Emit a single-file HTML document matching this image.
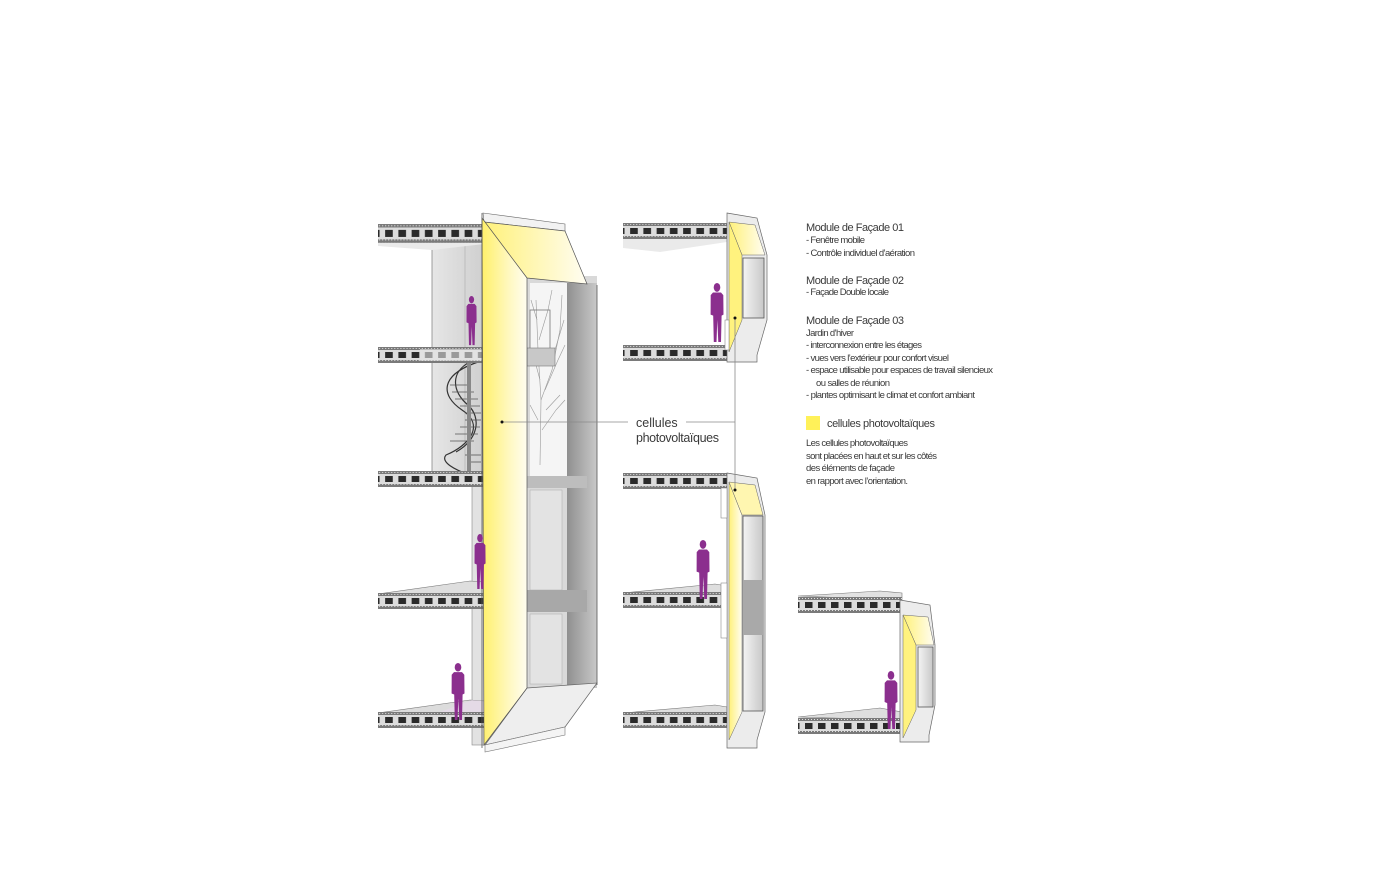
<!DOCTYPE html>
<html><head><meta charset="utf-8"><style>
html,body{margin:0;padding:0;background:#fff;}
svg{display:block;}
text{font-family:"Liberation Sans",sans-serif;fill:#3a3a3a;}
.n{font-family:"Liberation Sans Narrow","Liberation Sans",sans-serif;font-size:9.5px;}
.h{font-size:11px;}
</style></head><body>
<svg width="1400" height="875" viewBox="0 0 1400 875" xmlns="http://www.w3.org/2000/svg">
<defs>
<pattern id="holes" patternUnits="userSpaceOnUse" width="13" height="20" x="4">
<rect x="3" y="0" width="7.5" height="20" rx="3" fill="#2a2a2a"/>
</pattern>
<pattern id="dots" patternUnits="userSpaceOnUse" width="3" height="3">
<rect width="3" height="3" fill="#7a7a7a"/><rect x="1" y="1" width="1" height="1" fill="#e0e0e0"/>
</pattern>
<symbol id="slab" viewBox="0 0 104 17" preserveAspectRatio="none">
<rect x="0" y="0" width="104" height="3" fill="url(#dots)"/>
<rect x="0" y="3" width="104" height="10" fill="#dcdcdc"/>
<rect x="0" y="5" width="104" height="6" fill="url(#holes)"/>
<rect x="0" y="13" width="104" height="3" fill="url(#dots)"/>
</symbol>
<symbol id="man" viewBox="0 0 14 57" preserveAspectRatio="none">
<ellipse cx="7" cy="4.2" rx="3.3" ry="4.2" fill="#8b2f8e"/>
<path d="M3,9 L11,9 L13.3,11.5 L13.5,30 L11.6,31 L11,56 L8.3,56 L7.3,35 L6.5,56 L3.8,56 L3.2,31 L0.6,30 L0.7,11.5 Z" fill="#8b2f8e"/>
</symbol>
<linearGradient id="yel" x1="0" x2="1" y1="0" y2="0">
<stop offset="0" stop-color="#fff06a"/><stop offset="0.6" stop-color="#fff8c0"/><stop offset="1" stop-color="#fffdf0"/>
</linearGradient>
<linearGradient id="yel2" x1="0" x2="1" y1="0" y2="0">
<stop offset="0" stop-color="#fff17a"/><stop offset="1" stop-color="#fffdf2"/>
</linearGradient>
<linearGradient id="grey" x1="0" x2="1">
<stop offset="0" stop-color="#e6e6e6"/><stop offset="1" stop-color="#cfcfcf"/>
</linearGradient>
<linearGradient id="dk" x1="0" x2="1">
<stop offset="0" stop-color="#8f8f8f"/><stop offset="1" stop-color="#c9c9c9"/>
</linearGradient>
<linearGradient id="win" x1="0" x2="1">
<stop offset="0" stop-color="#f4f4f4"/><stop offset="1" stop-color="#c8c8c8"/>
</linearGradient>
</defs>

<!-- ========== MAIN TOWER ========== -->
<rect x="432" y="240" width="52" height="240" fill="url(#grey)"/>
<line x1="432" y1="240" x2="432" y2="478" stroke="#888" stroke-width="0.8"/>
<line x1="465" y1="245" x2="465" y2="478" stroke="#aaa" stroke-width="0.6"/>
<rect x="472" y="480" width="12" height="265" fill="#e2e2e2" stroke="#888" stroke-width="0.6"/>
<g fill="none" stroke="#333" stroke-width="1.2">
<path d="M478,362 C440,375 440,395 462,410 C485,425 470,445 446,455 C440,462 455,470 470,475"/>
<path d="M470,362 C450,372 452,392 468,405 C482,418 478,440 456,452"/>
</g>
<g stroke="#555" stroke-width="0.8">
<line x1="450" y1="385" x2="470" y2="385"/><line x1="452" y1="392" x2="474" y2="392"/><line x1="455" y1="399" x2="478" y2="399"/>
<line x1="460" y1="406" x2="480" y2="406"/><line x1="465" y1="413" x2="481" y2="413"/><line x1="465" y1="420" x2="481" y2="420"/>
<line x1="460" y1="427" x2="480" y2="427"/><line x1="455" y1="434" x2="478" y2="434"/><line x1="450" y1="441" x2="474" y2="441"/>
<line x1="465" y1="455" x2="481" y2="455"/><line x1="467" y1="462" x2="481" y2="462"/>
</g>
<rect x="467" y="362" width="4" height="110" fill="#888"/>

<polygon points="378,594 470,581 484,582 484,594" fill="#dedede" stroke="#777" stroke-width="0.6"/>
<polygon points="378,713 470,700 484,701 484,713" fill="#dcdcdc" stroke="#777" stroke-width="0.6"/>
<polygon points="440,712 472,700 484,701 484,713" fill="#e9d8ec" opacity="0.6"/>
<polygon points="378,236 484,228 484,244 432,250 378,246" fill="#eaeaea"/>
<use href="#slab" x="378" y="224" width="106" height="20"/>
<use href="#slab" x="378" y="347" width="106" height="17"/>
<rect x="420" y="349" width="62" height="12" fill="#e6e6e6" opacity="0.6"/>
<use href="#slab" x="378" y="471" width="106" height="17"/>
<use href="#slab" x="378" y="593" width="106" height="17"/>
<use href="#slab" x="378" y="712" width="106" height="17"/>

<rect x="527" y="276" width="70" height="412" fill="#d9d9d9"/>
<rect x="530" y="283" width="37" height="197" fill="#f5f5f5"/>
<g fill="none" stroke="#9a9a9a" stroke-width="0.6">
<path d="M540,465 L541,400 L538,350 L536,300"/><path d="M541,400 L552,370 L560,330 L562,295"/>
<path d="M540,380 L532,350"/><path d="M545,390 L558,360 L565,345"/><path d="M539,340 L548,310 L552,290"/>
<path d="M538,420 L530,405"/><path d="M542,430 L556,410 L565,400"/><path d="M537,320 L531,300"/>
<path d="M555,350 L564,320"/><path d="M546,410 L560,395"/>
</g>
<rect x="530" y="310" width="20" height="40" fill="none" stroke="#777" stroke-width="0.8"/>
<rect x="527" y="348" width="28" height="18" fill="#c8c8c8" stroke="#777" stroke-width="0.6"/>
<rect x="567" y="283" width="30" height="405" fill="url(#dk)"/>
<rect x="527" y="476" width="60" height="12" fill="#bdbdbd"/>
<rect x="530" y="490" width="32" height="100" fill="#e3e3e3" stroke="#aaa" stroke-width="0.5"/>
<rect x="527" y="590" width="60" height="22" fill="#a8a8a8"/>
<rect x="530" y="614" width="32" height="70" fill="#e3e3e3" stroke="#aaa" stroke-width="0.5"/>
<line x1="597" y1="285" x2="597" y2="685" stroke="#555" stroke-width="0.8"/>
<polygon points="483,213 565,224 565,231 484,222" fill="#f2f2f2" stroke="#666" stroke-width="0.6"/>
<polygon points="484,222 565,231 587,284 527,278" fill="url(#yel2)" stroke="#555" stroke-width="0.7"/>
<polygon points="527,688 597,683 565,727 485,745" fill="#eeeeee" stroke="#666" stroke-width="0.7"/>
<polygon points="485,745 565,727 565,735 485,752" fill="#f4f4f4" stroke="#777" stroke-width="0.6"/>
<polygon points="482,218 527,278 527,688 484,745" fill="url(#yel)" stroke="#555" stroke-width="0.7"/>
<line x1="482" y1="213" x2="482" y2="748" stroke="#555" stroke-width="0.8"/>

<use href="#man" x="466" y="296" width="11" height="50"/>
<use href="#man" x="474" y="534" width="12" height="56"/>
<use href="#man" x="451" y="663" width="14" height="58"/>

<!-- ========== MODULE 01 ========== -->
<polygon points="623,238 727,232 727,242 660,252 623,248" fill="#eaeaea"/>
<use href="#slab" x="623" y="223" width="106" height="17"/>
<use href="#slab" x="623" y="345" width="106" height="17"/>
<polygon points="727,213 757,218 767,255 767,320 757,355 757,362 727,362" fill="#ececec" stroke="#666" stroke-width="0.7"/>
<polygon points="729,222 755,225 765,255 742,255" fill="url(#yel2)" stroke="#666" stroke-width="0.5"/>
<polygon points="729,222 742,255 742,320 729,352" fill="#fff27e" stroke="#666" stroke-width="0.5"/>
<rect x="743" y="258" width="21" height="60" fill="url(#win)" stroke="#555" stroke-width="0.8"/>
<rect x="725" y="320" width="4" height="30" fill="#fff" stroke="#777" stroke-width="0.5"/>
<use href="#man" x="710" y="283" width="14" height="60"/>

<!-- ========== MODULE 02 ========== -->
<polygon points="623,593 715,584 727,586 727,594" fill="#dedede" stroke="#777" stroke-width="0.6"/>
<polygon points="623,713 715,705 727,707 727,714" fill="#dedede" stroke="#777" stroke-width="0.6"/>
<use href="#slab" x="623" y="473" width="106" height="17"/>
<use href="#slab" x="623" y="592" width="106" height="17"/>
<use href="#slab" x="623" y="712" width="106" height="17"/>
<polygon points="727,473 757,478 765,515 765,712 757,740 757,748 727,748" fill="#ececec" stroke="#666" stroke-width="0.7"/>
<polygon points="729,482 742,515 742,712 729,740" fill="url(#yel2)" stroke="#666" stroke-width="0.5"/>
<polygon points="729,482 755,485 763,515 742,515" fill="#fff6b0" stroke="#666" stroke-width="0.5"/>
<rect x="743" y="516" width="20" height="195" fill="url(#win)" stroke="#555" stroke-width="0.8"/>
<rect x="743" y="580" width="20" height="55" fill="#a9a9a9"/>
<rect x="721" y="583" width="6" height="55" fill="#fff" stroke="#777" stroke-width="0.5"/>
<rect x="721" y="488" width="6" height="30" fill="#fff" stroke="#777" stroke-width="0.5"/>
<use href="#man" x="696" y="540" width="14" height="60"/>

<!-- ========== MODULE 03 ========== -->
<polygon points="798,596 880,591 902,593 902,600" fill="#e2e2e2" stroke="#777" stroke-width="0.6"/>
<polygon points="798,717 880,708 902,712 902,720" fill="#dedede" stroke="#777" stroke-width="0.6"/>
<use href="#slab" x="798" y="597" width="104" height="17"/>
<use href="#slab" x="798" y="718" width="104" height="17"/>
<polygon points="900,600 930,605 935,645 935,705 929,735 929,742 900,742" fill="#ececec" stroke="#666" stroke-width="0.7"/>
<polygon points="903,615 928,617 934,645 916,645" fill="url(#yel2)" stroke="#666" stroke-width="0.5"/>
<polygon points="903,615 916,645 916,710 903,738" fill="#fff27e" stroke="#666" stroke-width="0.5"/>
<rect x="918" y="647" width="15" height="60" fill="url(#win)" stroke="#555" stroke-width="0.8"/>
<use href="#man" x="884" y="671" width="14" height="59"/>

<!-- ========== connectors ========== -->
<g stroke="#8a8a8a" stroke-width="0.8" fill="none">
<line x1="502" y1="422" x2="628" y2="422"/>
<line x1="686" y1="422" x2="735" y2="422"/>
<line x1="735" y1="318" x2="735" y2="490"/>
</g>
<circle cx="502" cy="422" r="1.5" fill="#111"/>
<circle cx="735" cy="318" r="1.5" fill="#111"/>
<circle cx="735" cy="490" r="1.5" fill="#111"/>
<text x="636" y="427" font-size="12.5">cellules</text>
<text x="636" y="442" font-size="12.5" textLength="83">photovoltaïques</text>

<!-- ========== legend text ========== -->
<text class="h" x="806" y="231" textLength="98">Module de Façade 01</text>
<text class="n" x="806" y="243" textLength="59">- Fenêtre mobile</text>
<text class="n" x="806" y="256" textLength="109">- Contrôle individuel d’aération</text>
<text class="h" x="806" y="284" textLength="98">Module de Façade 02</text>
<text class="n" x="806" y="295" textLength="83">- Façade Double locale</text>
<text class="h" x="806" y="324" textLength="98">Module de Façade 03</text>
<text class="n" x="806" y="336" textLength="48">Jardin d’hiver</text>
<text class="n" x="806" y="348" textLength="116">- interconnexion entre les étages</text>
<text class="n" x="806" y="361" textLength="143">- vues vers l’extérieur pour confort visuel</text>
<text class="n" x="806" y="373" textLength="187">- espace utilisable pour espaces de travail silencieux</text>
<text class="n" x="816" y="386" textLength="74">ou salles de réunion</text>
<text class="n" x="806" y="398" textLength="169">- plantes optimisant le climat et confort ambiant</text>
<rect x="806" y="416" width="14" height="14" fill="#fff159"/>
<text x="827" y="427" font-size="11" textLength="108">cellules photovoltaïques</text>
<text class="n" x="806" y="446" textLength="102">Les cellules photovoltaïques</text>
<text class="n" x="806" y="459" textLength="131">sont placées en haut et sur les côtés</text>
<text class="n" x="806" y="471" textLength="89">des éléments de façade</text>
<text class="n" x="806" y="484" textLength="102">en rapport avec l’orientation.</text>
</svg>
</body></html>
